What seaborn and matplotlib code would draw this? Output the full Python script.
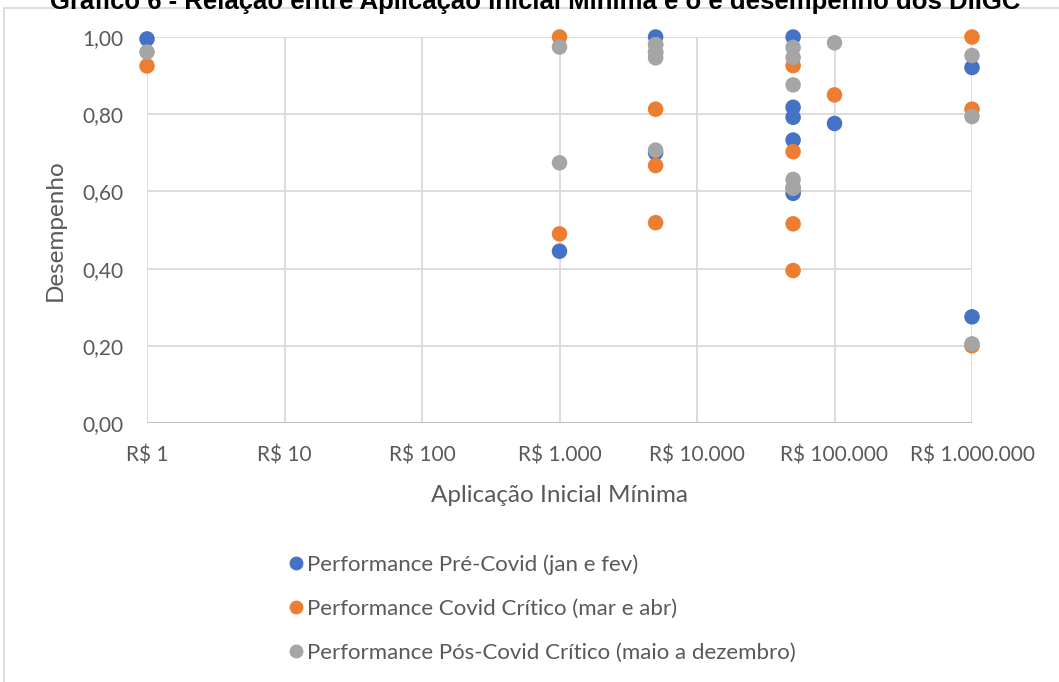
import numpy as np
import pandas as pd
import seaborn as sns
import matplotlib.pyplot as plt
from matplotlib.patches import Rectangle
from matplotlib.ticker import FixedLocator, FixedFormatter

# Minimum initial investment (R$) for each fund and its performance in three periods
pre_x = [1, 1000, 5000, 5000, 5000, 50000, 50000, 50000, 50000, 50000, 100000, 1000000, 1000000]
pre_y = [0.995, 0.445, 1.00, 0.96, 0.70, 1.00, 0.818, 0.792, 0.733, 0.595, 0.776, 0.921, 0.275]

crit_x = [1, 1000, 1000, 5000, 5000, 5000, 5000, 50000, 50000, 50000, 50000, 50000, 100000,
          1000000, 1000000, 1000000]
crit_y = [0.925, 1.00, 0.49, 0.98, 0.813, 0.667, 0.519, 0.926, 0.703, 0.61, 0.516, 0.395, 0.85,
          1.00, 0.813, 0.20]

pos_x = [1, 1000, 1000, 5000, 5000, 5000, 5000, 50000, 50000, 50000, 50000, 50000, 100000,
         1000000, 1000000, 1000000]
pos_y = [0.961, 0.974, 0.674, 0.98, 0.96, 0.946, 0.707, 0.973, 0.947, 0.876, 0.631, 0.608, 0.985,
         0.952, 0.794, 0.205]

series_names = ["Performance Pré-Covid (jan e fev)",
                "Performance Covid Crítico (mar e abr)",
                "Performance Pós-Covid Crítico (maio a dezembro)"]
series_colors = ["#4472C4", "#ED7D31", "#A5A5A5"]

x_ticks = [1, 10, 100, 1000, 10000, 100000, 1000000]
x_tick_labels = ["R$ 1", "R$ 10", "R$ 100", "R$ 1.000", "R$ 10.000", "R$ 100.000", "R$ 1.000.000"]
y_ticks = [0.0, 0.2, 0.4, 0.6, 0.8, 1.0]
y_tick_labels = ["0,00", "0,20", "0,40", "0,60", "0,80", "1,00"]

df = pd.concat([
    pd.DataFrame({"aplicacao": pre_x, "desempenho": pre_y, "serie": series_names[0]}),
    pd.DataFrame({"aplicacao": crit_x, "desempenho": crit_y, "serie": series_names[1]}),
    pd.DataFrame({"aplicacao": pos_x, "desempenho": pos_y, "serie": series_names[2]}),
], ignore_index=True)

sns.set_theme(style="white")
plt.rcParams["font.family"] = ["Lato", "DejaVu Sans"]

fig = plt.figure(figsize=(10.59, 6.82), dpi=100)
fig.patch.set_facecolor("white")

# chart frame
fig.patches.append(Rectangle((4 / 1059, -0.05), 1.2, 1 - 8 / 682 + 0.05,
                             transform=fig.transFigure, fill=False,
                             edgecolor="#d9d9d9", linewidth=1.3, zorder=0))

ax = fig.add_axes([147 / 1059, 1 - 423 / 682, (972 - 147) / 1059, (423 - 37) / 682])
ax.set_xscale("log")
ax.set_xlim(1, 1000000)
ax.set_ylim(0, 1)

for xv in x_ticks:
    ax.axvline(xv, color="#d9d9d9", linewidth=1.3, zorder=0)
for yv in y_ticks[1:]:
    ax.axhline(yv, color="#d9d9d9", linewidth=1.3, zorder=0)
ax.axhline(0, color="#bfbfbf", linewidth=1.5, zorder=0)

sns.scatterplot(data=df, x="aplicacao", y="desempenho", hue="serie",
                palette=series_colors, hue_order=series_names,
                s=125, linewidth=0, alpha=1, ax=ax, legend=False,
                clip_on=False, zorder=3)

for sp in ax.spines.values():
    sp.set_visible(False)

ax.xaxis.set_major_locator(FixedLocator(x_ticks))
ax.xaxis.set_major_formatter(FixedFormatter(x_tick_labels))
ax.xaxis.set_minor_locator(FixedLocator([]))
ax.set_yticks(y_ticks)
ax.set_yticklabels(y_tick_labels)
ax.tick_params(axis="x", length=0, pad=16, labelsize=15, labelcolor="#595959")
ax.tick_params(axis="y", length=0, pad=17, labelsize=15, labelcolor="#595959")

ax.set_xlabel("Aplicação Inicial Mínima", fontsize=17.5, color="#595959", labelpad=14)
ax.set_ylabel("Desempenho", fontsize=17.5, color="#595959", labelpad=12)

fig.text(535 / 1059, 1 - 9 / 682, "Gráfico 6 - Relação entre Aplicação Inicial Mínima e o e desempenho dos DIIGC",
         ha="center", va="baseline", fontsize=18.5, fontweight="bold", color="#000000",
         family=["Liberation Sans", "DejaVu Sans"])

handles = [plt.Line2D([], [], marker="o", linestyle="", markersize=10,
                      markerfacecolor=c, markeredgewidth=0) for c in series_colors]
fig.legend(handles, series_names, loc="upper left",
           bbox_to_anchor=(279 / 1059, 1 - 543 / 682), frameon=False,
           fontsize=16, labelcolor="#595959", handlelength=0.5,
           handletextpad=0.25, labelspacing=1.08, borderpad=0)

fig.savefig("out.png", dpi=100, facecolor="white")
